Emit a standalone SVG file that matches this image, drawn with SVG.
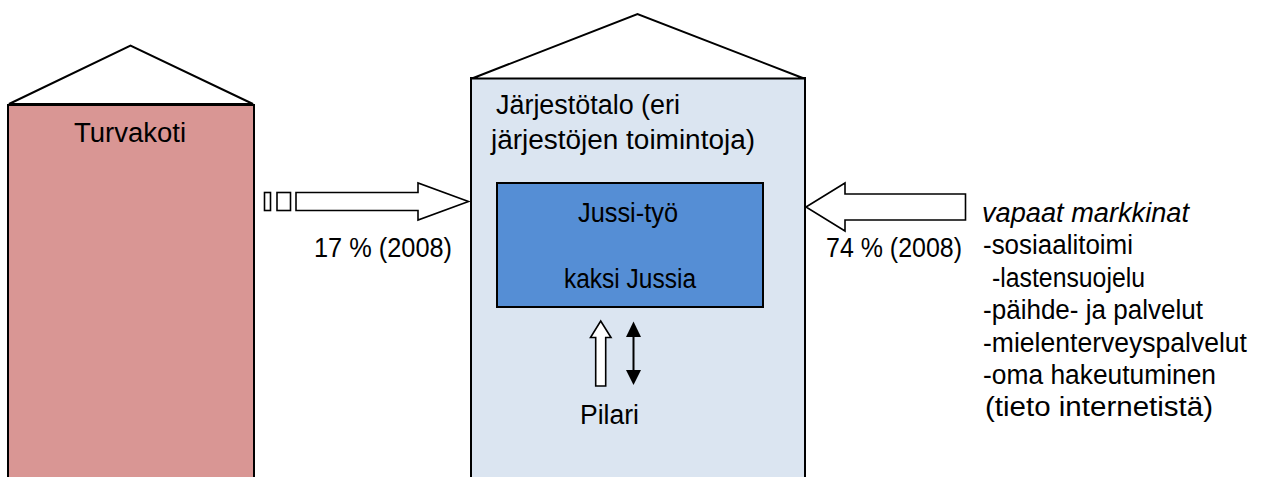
<svg xmlns="http://www.w3.org/2000/svg" width="1261" height="477" viewBox="0 0 1261 477">
<style>
text{font-family:"Liberation Sans",Arial,sans-serif;font-size:27px;fill:#000}
.it{font-style:italic}
.roof{fill:#fff;stroke:#000;stroke-width:2;stroke-linejoin:miter}
.wall{stroke:#000;stroke-width:2}
.arr{fill:#fff;stroke:#000;stroke-width:1.6;stroke-linejoin:miter}
</style>
<rect width="1261" height="477" fill="#fff"/>
<g id="turvakoti">
<rect class="wall" x="8" y="105" width="246" height="380" fill="#D99694"/>
<polygon class="roof" points="9,104 130.5,45.5 253,104"/>
<text x="74" y="142" textLength="112" lengthAdjust="spacingAndGlyphs">Turvakoti</text>
</g>
<g id="jarjestotalo">
<rect class="wall" x="471" y="78" width="334" height="410" fill="#DBE5F1"/>
<polygon class="roof" points="472,78.5 637.5,14 804,78.5"/>
<text x="496" y="114" textLength="184" lengthAdjust="spacingAndGlyphs">Järjestötalo (eri</text>
<text x="491" y="149" textLength="264" lengthAdjust="spacingAndGlyphs">järjestöjen toimintoja)</text>
</g>
<g id="jussi">
<rect x="497" y="183" width="266" height="124" fill="#558ED5" stroke="#000" stroke-width="2"/>
<text x="578" y="222" textLength="100" lengthAdjust="spacingAndGlyphs">Jussi-työ</text>
<text x="564" y="288" textLength="132" lengthAdjust="spacingAndGlyphs">kaksi Jussia</text>
</g>
<g id="pilari">
<text x="580" y="424" textLength="59" lengthAdjust="spacingAndGlyphs">Pilari</text>
</g>
<g id="markkinat">
<text x="982" y="222" class="it" textLength="207" lengthAdjust="spacingAndGlyphs">vapaat markkinat</text>
<text x="983" y="254" textLength="150" lengthAdjust="spacingAndGlyphs">-sosiaalitoimi</text>
<text x="992" y="287" textLength="153" lengthAdjust="spacingAndGlyphs">-lastensuojelu</text>
<text x="983" y="319" textLength="220" lengthAdjust="spacingAndGlyphs">-päihde- ja palvelut</text>
<text x="983" y="352" textLength="264" lengthAdjust="spacingAndGlyphs">-mielenterveyspalvelut</text>
<text x="983" y="384" textLength="233" lengthAdjust="spacingAndGlyphs">-oma hakeutuminen</text>
<text x="985" y="416" textLength="228" lengthAdjust="spacingAndGlyphs">(tieto internetistä)</text>
</g>
<g id="connectors">
<rect class="arr" x="264.5" y="192.5" width="6" height="18"/>
<rect class="arr" x="277" y="192.5" width="13.5" height="18"/>
<polygon class="arr" points="296,192.5 418,192.5 418,183 468.5,201.5 418,220 418,210.5 296,210.5"/>
<text x="314" y="257" textLength="138" lengthAdjust="spacingAndGlyphs">17 % (2008)</text>
<polygon class="arr" points="806,207 845,183 845,194 965.5,194 965.5,220 845,220 845,231"/>
<text x="826" y="257" textLength="136" lengthAdjust="spacingAndGlyphs">74 % (2008)</text>
<polygon class="arr" points="600.7,321 611,337.5 605.7,337.5 605.7,386 595.7,386 595.7,337.5 590.5,337.5"/>
<line x1="633.5" y1="334" x2="633.5" y2="373" stroke="#000" stroke-width="2"/>
<polygon points="633.5,321.5 641,337 626,337" fill="#000"/>
<polygon points="633.5,385 641,370 626,370" fill="#000"/>
</g>
</svg>
